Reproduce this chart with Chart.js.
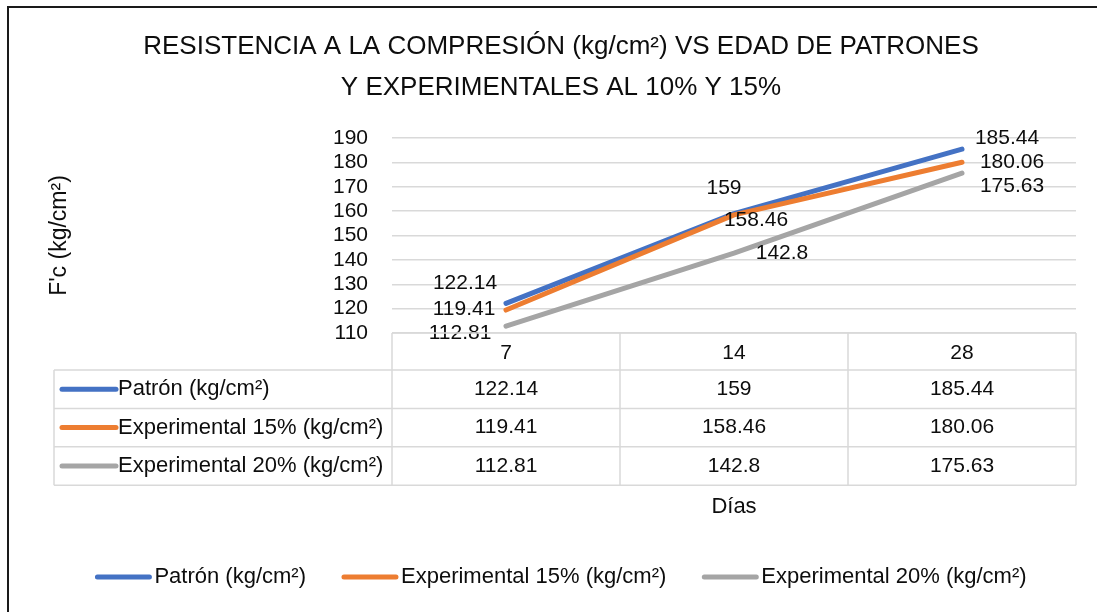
<!DOCTYPE html>
<html>
<head>
<meta charset="utf-8">
<script src="https://cdn.jsdelivr.net/npm/chart.js@4"></script>
<style>
  html, body { margin: 0; padding: 0; background: #ffffff; }
  #wrap { width: 1097px; height: 612px; }
</style>
</head>
<body>
<div id="wrap"><canvas id="c" width="1097" height="612"></canvas></div>
<script>
// ---- data ----
const dias = ['7', '14', '28'];
const patron = [122.14, 159, 185.44];
const exp15 = [119.41, 158.46, 180.06];
const exp20 = [112.81, 142.8, 175.63];
const seriesNames = ['Patrón (kg/cm²)', 'Experimental 15% (kg/cm²)', 'Experimental 20% (kg/cm²)'];
const titleLines = ['RESISTENCIA A LA COMPRESIÓN (kg/cm²) VS EDAD DE PATRONES', 'Y EXPERIMENTALES AL 10% Y 15%'];
const yTitle = "F'c (kg/cm²)";
const xTitle = 'Días';
const yMin = 110, yMax = 190, yStep = 10;

// ---- styles ----
const FONT = '"Liberation Sans", Arial, sans-serif';
const TXT = '#0d0d0d';
const colors = ['#4472C4', '#ED7D31', '#A5A5A5'];
const gridColor = '#d9d9d9';
// label offsets (px) relative to each point, per series
const labelOffsets = [
  [[-41, -20], [-10, -25], [45, -11]],
  [[-42, -1], [22, 5], [50, 0]],
  [[-46, 7], [48, 0], [50, 13]]
];

const seriesData = [patron, exp15, exp20];

const borderPlugin = {
  id: 'outerBorder',
  afterDraw(chart) {
    const ctx = chart.ctx;
    ctx.save();
    ctx.strokeStyle = '#1a1a1a';
    ctx.lineWidth = 2;
    ctx.strokeRect(8, 7, 2000, 2000);
    ctx.restore();
  }
};

const labelPlugin = {
  id: 'pointLabels',
  afterDatasetsDraw(chart) {
    const ctx = chart.ctx;
    ctx.save();
    ctx.font = '21px ' + FONT;
    ctx.fillStyle = TXT;
    ctx.textAlign = 'center';
    ctx.textBaseline = 'middle';
    chart.data.datasets.forEach((ds, di) => {
      const meta = chart.getDatasetMeta(di);
      meta.data.forEach((pt, i) => {
        const off = labelOffsets[di][i];
        ctx.fillText(String(ds.data[i]), pt.x + off[0], pt.y + off[1]);
      });
    });
    ctx.restore();
  }
};

const tablePlugin = {
  id: 'dataTable',
  afterDraw(chart) {
    const ctx = chart.ctx;
    const area = chart.chartArea;
    const xs = chart.scales.x;
    const n = dias.length;
    const colW = (area.right - area.left) / n;
    const headerH = 37;
    const rowH = 38.4;
    const tableLeft = 54;
    const top = area.bottom;
    const rowsTop = top + headerH;
    const bottom = rowsTop + rowH * seriesData.length;
    ctx.save();
    ctx.strokeStyle = gridColor;
    ctx.lineWidth = 1.5;
    ctx.beginPath();
    ctx.moveTo(area.left, top); ctx.lineTo(area.right, top);
    for (let r = 0; r <= seriesData.length; r++) {
      const y = rowsTop + r * rowH;
      ctx.moveTo(tableLeft, y); ctx.lineTo(area.right, y);
    }
    for (let c = 0; c <= n; c++) {
      const x = area.left + c * colW;
      ctx.moveTo(x, top); ctx.lineTo(x, bottom);
    }
    ctx.moveTo(tableLeft, rowsTop); ctx.lineTo(tableLeft, bottom);
    ctx.stroke();

    ctx.textBaseline = 'middle';
    seriesData.forEach((vals, r) => {
      const yc = rowsTop + r * rowH + rowH / 2;
      ctx.strokeStyle = colors[r];
      ctx.lineWidth = 5;
      ctx.lineCap = 'round';
      ctx.beginPath();
      ctx.moveTo(tableLeft + 8, yc); ctx.lineTo(tableLeft + 62, yc);
      ctx.stroke();
      ctx.fillStyle = TXT;
      ctx.font = '22px ' + FONT;
      ctx.textAlign = 'left';
      ctx.fillText(seriesNames[r], tableLeft + 64, yc);
      ctx.font = '21px ' + FONT;
      ctx.textAlign = 'center';
      vals.forEach((v, i) => {
        ctx.fillText(String(v), xs.getPixelForValue(i), yc);
      });
    });

    // legend
    ctx.font = '22px ' + FONT;
    const keyW = 58, keyGap = 2, itemGap = 35;
    const widths = seriesNames.map(s => keyW + keyGap + ctx.measureText(s).width);
    const total = widths.reduce((a, b) => a + b, 0) + itemGap * (widths.length - 1);
    let lx = chart.width / 2 + 12 - total / 2;
    const ly = 577;
    seriesNames.forEach((s, i) => {
      ctx.strokeStyle = colors[i];
      ctx.lineWidth = 5;
      ctx.lineCap = 'round';
      ctx.beginPath();
      ctx.moveTo(lx + 3, ly); ctx.lineTo(lx + keyW - 3, ly);
      ctx.stroke();
      ctx.fillStyle = TXT;
      ctx.textAlign = 'left';
      ctx.fillText(s, lx + keyW + keyGap, ly);
      lx += widths[i] + itemGap;
    });
    ctx.restore();
  }
};

const datasets = seriesData.map((d, i) => ({
  label: seriesNames[i],
  data: d,
  borderColor: colors[i],
  backgroundColor: colors[i],
  borderWidth: 5,
  pointRadius: 0,
  pointHoverRadius: 0,
  tension: 0,
  borderCapStyle: 'round',
  borderJoinStyle: 'round',
  order: 2 - i
}));

new Chart(document.getElementById('c'), {
  type: 'line',
  data: { labels: dias, datasets },
  options: {
    responsive: false,
    devicePixelRatio: 1,
    animation: false,
    layout: { padding: { left: 46, right: 21, top: 0, bottom: 92 } },
    plugins: {
      legend: { display: false },
      tooltip: { enabled: false },
      title: {
        display: true,
        text: titleLines,
        color: TXT,
        font: { family: FONT, size: 26, weight: 'normal', lineHeight: 1.577 },
        padding: { top: 26.5, bottom: 29.5 }
      }
    },
    scales: {
      x: {
        type: 'category',
        offset: true,
        grid: { display: false, drawTicks: false },
        border: { display: false },
        ticks: { color: TXT, font: { family: FONT, size: 21 }, padding: 8, maxRotation: 0 },
        title: { display: true, text: xTitle, color: TXT, font: { family: FONT, size: 22, lineHeight: 1.2 }, padding: 0 },
        afterFit(s) { s.height = 187; }
      },
      y: {
        min: yMin, max: yMax,
        grid: { color: gridColor, lineWidth: 1.5, drawTicks: false },
        border: { display: false },
        ticks: { stepSize: yStep, autoSkip: false, color: TXT, font: { family: FONT, size: 21 }, padding: 24 },
        title: { display: true, text: yTitle, color: TXT, font: { family: FONT, size: 23, lineHeight: 1.2 }, padding: 0 },
        afterFit(s) { s.width = 346; }
      }
    }
  },
  plugins: [labelPlugin, tablePlugin, borderPlugin]
});
</script>
</body>
</html>
